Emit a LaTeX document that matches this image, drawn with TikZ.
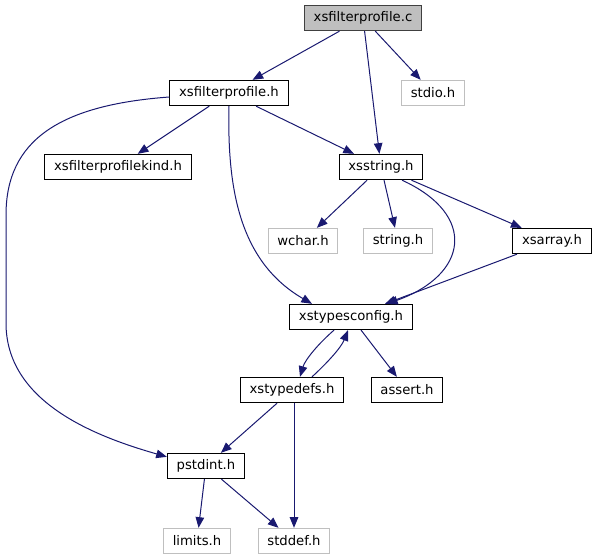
\documentclass[tikz,border=0pt]{standalone}
\usepackage{fontspec}
\setmainfont{DejaVu Sans}
\usepackage{tikz}
\usetikzlibrary{arrows.meta, calc}
\usepackage{xcolor}
\definecolor{edgeblue}{HTML}{191970}
\definecolor{sysgray}{HTML}{BFBFBF}
\definecolor{srcframe}{HTML}{404040}

\begin{document}
\begin{tikzpicture}[
    x=0.75pt, y=-0.75pt,
    every node/.style = {font=\fontsize{9.9}{11}\selectfont, text=black},
    hblock/.style   = {draw=black, line width=0.75pt, inner xsep=7pt, inner ysep=0pt,
                       minimum height=19pt},
    sysblock/.style = {hblock, draw=sysgray},
    srcblock/.style = {hblock, fill=sysgray, draw=srcframe},
    arr/.style      = {-{Triangle[length=8pt,width=6.4pt]}, draw=edgeblue,
                       line width=0.75pt},
]
\useasboundingbox (0,0) rectangle (597,560);

%% Source file and its headers
\node[srcblock] (src)   at (363,18)  {xsfilterprofile.c};
\node[hblock]   (fph)   at (229,93)  {xsfilterprofile.h};
\node[sysblock] (stdio) at (433,93)  {stdio.h};
\node[hblock]   (kind)  at (118,167) {xsfilterprofilekind.h};
\node[hblock]   (str)   at (381,167) {xsstring.h};

%% Third row
\node[sysblock] (wchar) at (303,241) {wchar.h};
\node[sysblock] (cstr)  at (398,241) {string.h};
\node[hblock]   (xsarr) at (552,241) {xsarray.h};

%% Type configuration
\node[hblock]   (cfg)   at (351,317) {xstypesconfig.h};
\node[hblock]   (tdef)  at (292,390) {xstypedefs.h};
\node[hblock]   (asrt)  at (407,390) {assert.h};
\node[hblock]   (pint)  at (206,466) {pstdint.h};
\node[sysblock] (lim)   at (197,541) {limits.h};
\node[sysblock] (sdef)  at (294,541) {stddef.h};

%% Includes of xsfilterprofile.c
\draw[arr] (src) -- (fph);
\draw[arr] (src) -- (stdio);
\draw[arr] (src) -- (str);

%% Includes of xsfilterprofile.h
\draw[arr] (fph) -- (kind);
\draw[arr] (fph) -- (str);
\draw[arr] (fph.south) .. controls (227,190) and (240,262) .. ($(cfg.north)+(-39,0)$);
\draw[arr] ($(fph.west)+(0,4)$) .. controls (60,105) and (6,140) .. (6,215)
    -- (6,323) .. controls (6,400) and (90,435) .. ($(pint.north west)+(0,4)$);

%% Includes of xsstring.h
\draw[arr] (str) -- (wchar);
\draw[arr] (str) -- (cstr);
\draw[arr] (str) -- (xsarr);
\draw[arr] ($(str.south)+(21,0)$) .. controls (478,215) and (468,275) .. ($(cfg.north)+(36,0)$);

%% xsarray.h
\draw[arr] (xsarr) -- ($(cfg.north)+(34,0)$);

%% xstypesconfig.h <-> xstypedefs.h
\draw[arr] ($(cfg.south)+(-17,0)$) .. controls (318,344) and (305,360) .. ($(tdef.north)+(8,0)$);
\draw[arr] ($(tdef.north)+(20,0)$) .. controls (326,364) and (341,348) .. ($(cfg.south)+(-3,0)$);
\draw[arr] (cfg) -- (asrt);

%% xstypedefs.h
\draw[arr] (tdef) -- (pint);
\draw[arr] (tdef.south -| sdef.north) -- (sdef.north);

%% pstdint.h
\draw[arr] (pint) -- (lim);
\draw[arr] (pint) -- (sdef);

\end{tikzpicture}
\end{document}
